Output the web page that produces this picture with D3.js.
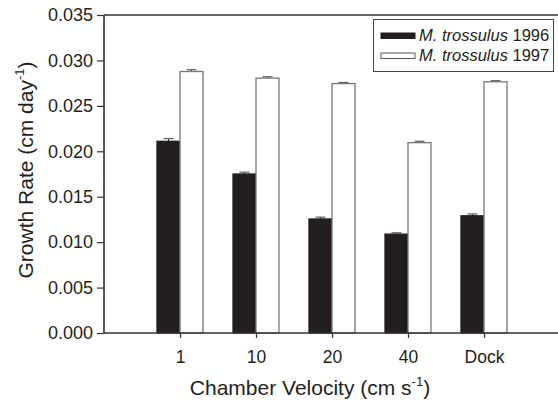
<!DOCTYPE html>
<html>
<head>
<meta charset="utf-8">
<script src="https://cdn.jsdelivr.net/npm/d3@7"></script>
<style>
  body { margin: 0; background: #fff; }
  text { font-family: "Liberation Sans", Arial, sans-serif; fill: #231f20; }
</style>
</head>
<body>
<svg id="chart" width="558" height="402"></svg>
<script>
// velocity categories
var categories = ['1', '10', '20', '40', 'Dock'];
var series = ['1996', '1997'];
// growth rate means (cm day-1)
var rate1996 = [0.0211, 0.0175, 0.01255, 0.01088, 0.0129];
var rate1997 = [0.02878, 0.02805, 0.02745, 0.02095, 0.02765];
// standard errors
var err1996 = [0.0003, 0.0002, 0.0002, 0.00015, 0.0002];
var err1997 = [0.0002, 0.00015, 0.00012, 0.00015, 0.00012];
var yTicks = [0, 0.005, 0.010, 0.015, 0.020, 0.025, 0.030, 0.035];

var svg = d3.select('#chart');
var plotLeft = 104, plotTop = 15, plotBottom = 333;

// x positions: categories sit at 1..5 on a 0..6 axis
var x = d3.scaleLinear().domain([0, 6]).range([plotLeft, 560]);
var y = d3.scaleLinear().domain([0, 0.035]).range([plotBottom, plotTop]);
var barW = 23;

var flat = [];
categories.forEach(function(c, i) {
	flat.push({cat: c, i: i, s: 0, v: rate1996[i], e: err1996[i]});
	flat.push({cat: c, i: i, s: 1, v: rate1997[i], e: err1997[i]});
});

var g = svg.append('g');

// error bars (only upper half visible above bar)
flat.forEach(function(d) {
	var cx = x(d.i + 1) + (d.s == 0 ? -barW / 2 : barW / 2);
	g.append('line')
		.attr('x1', cx).attr('x2', cx)
		.attr('y1', y(d.v)).attr('y2', y(d.v + d.e))
		.attr('stroke', '#231f20').attr('stroke-width', 1);
	g.append('line')
		.attr('x1', cx - 5).attr('x2', cx + 5)
		.attr('y1', y(d.v + d.e)).attr('y2', y(d.v + d.e))
		.attr('stroke', '#666').attr('stroke-width', 1.3);
});

// bars
g.selectAll('rect.bar')
	.data(flat)
	.enter()
	.append('rect')
	.classed('bar', true)
	.attr('x', function(d) { return d.s == 0 ? x(d.i + 1) - barW : x(d.i + 1); })
	.attr('y', function(d) { return y(d.v); })
	.attr('width', barW)
	.attr('height', function(d) { return plotBottom - y(d.v); })
	.attr('fill', function(d) { return d.s == 0 ? '#231f20' : '#fff'; })
	.attr('stroke', function(d) { return d.s == 0 ? '#231f20' : '#777'; })
	.attr('stroke-width', 1.3);

// y axis
var yAxis = d3.axisLeft(y)
	.tickValues(yTicks)
	.tickFormat(d3.format('.3f'))
	.tickSize(7)
	.tickPadding(4);
var ya = svg.append('g')
	.attr('transform', 'translate(' + plotLeft + ',0)')
	.call(yAxis);
ya.select('.domain').remove();
ya.append('line').attr('x1', 0).attr('x2', 0).attr('y1', plotTop).attr('y2', plotBottom + 0.5)
	.attr('stroke', '#333').attr('stroke-width', 1.6);
ya.selectAll('.tick line').attr('stroke', '#333').attr('stroke-width', 1.2);
ya.selectAll('.tick text').style('font-size', '18px').attr('fill', '#231f20');

// x axis
var xAxis = d3.axisBottom(x)
	.tickValues([1, 2, 3, 4, 5])
	.tickFormat(function(d) { return categories[d - 1]; })
	.tickSize(5)
	.tickPadding(11);
var xa = svg.append('g')
	.attr('transform', 'translate(0,' + plotBottom + ')')
	.call(xAxis);
xa.select('.domain').remove();
xa.append('line').attr('x1', plotLeft).attr('x2', 558).attr('y1', 0).attr('y2', 0)
	.attr('stroke', '#333').attr('stroke-width', 1.6);
xa.selectAll('.tick line').attr('stroke', '#333').attr('stroke-width', 1.2);
xa.selectAll('.tick text').style('font-size', '17.5px').attr('fill', '#231f20')
	.attr('dy', null).attr('y', 30);

// top frame line
svg.append('line')
	.attr('x1', plotLeft).attr('x2', 558).attr('y1', plotTop).attr('y2', plotTop)
	.attr('stroke', '#333').attr('stroke-width', 1.6);

// axis titles
var xt = svg.append('text')
	.attr('x', 310).attr('y', 395)
	.attr('text-anchor', 'middle')
	.style('font-size', '21px');
xt.append('tspan').text('Chamber Velocity (cm s');
xt.append('tspan').attr('dy', -9).style('font-size', '13px').text('-1');
xt.append('tspan').attr('dy', 9).text(')');

var yt = svg.append('text')
	.attr('transform', 'translate(33,170) rotate(-90)')
	.attr('text-anchor', 'middle')
	.style('font-size', '21px');
yt.append('tspan').text('Growth Rate (cm day');
yt.append('tspan').attr('dy', -9).style('font-size', '13px').text('-1');
yt.append('tspan').attr('dy', 9).text(')');

// legend
var legend = svg.append('g');
legend.append('rect')
	.attr('x', 373.5).attr('y', 19.5).attr('width', 180).attr('height', 52)
	.attr('fill', '#fff').attr('stroke', '#444').attr('stroke-width', 1);
series.forEach(function(s, i) {
	var ly = 41 + i * 20;
	legend.append('rect')
		.attr('x', 381).attr('y', ly - 8).attr('width', 34).attr('height', 5.5)
		.attr('fill', i == 0 ? '#231f20' : '#fff')
		.attr('stroke', i == 0 ? '#231f20' : '#555').attr('stroke-width', 1);
	var t = legend.append('text')
		.attr('x', 419).attr('y', ly)
		.style('font-size', '16.5px');
	t.append('tspan').style('font-style', 'italic').text('M. trossulus');
	t.append('tspan').text(' ' + s);
});
</script>
</body>
</html>
